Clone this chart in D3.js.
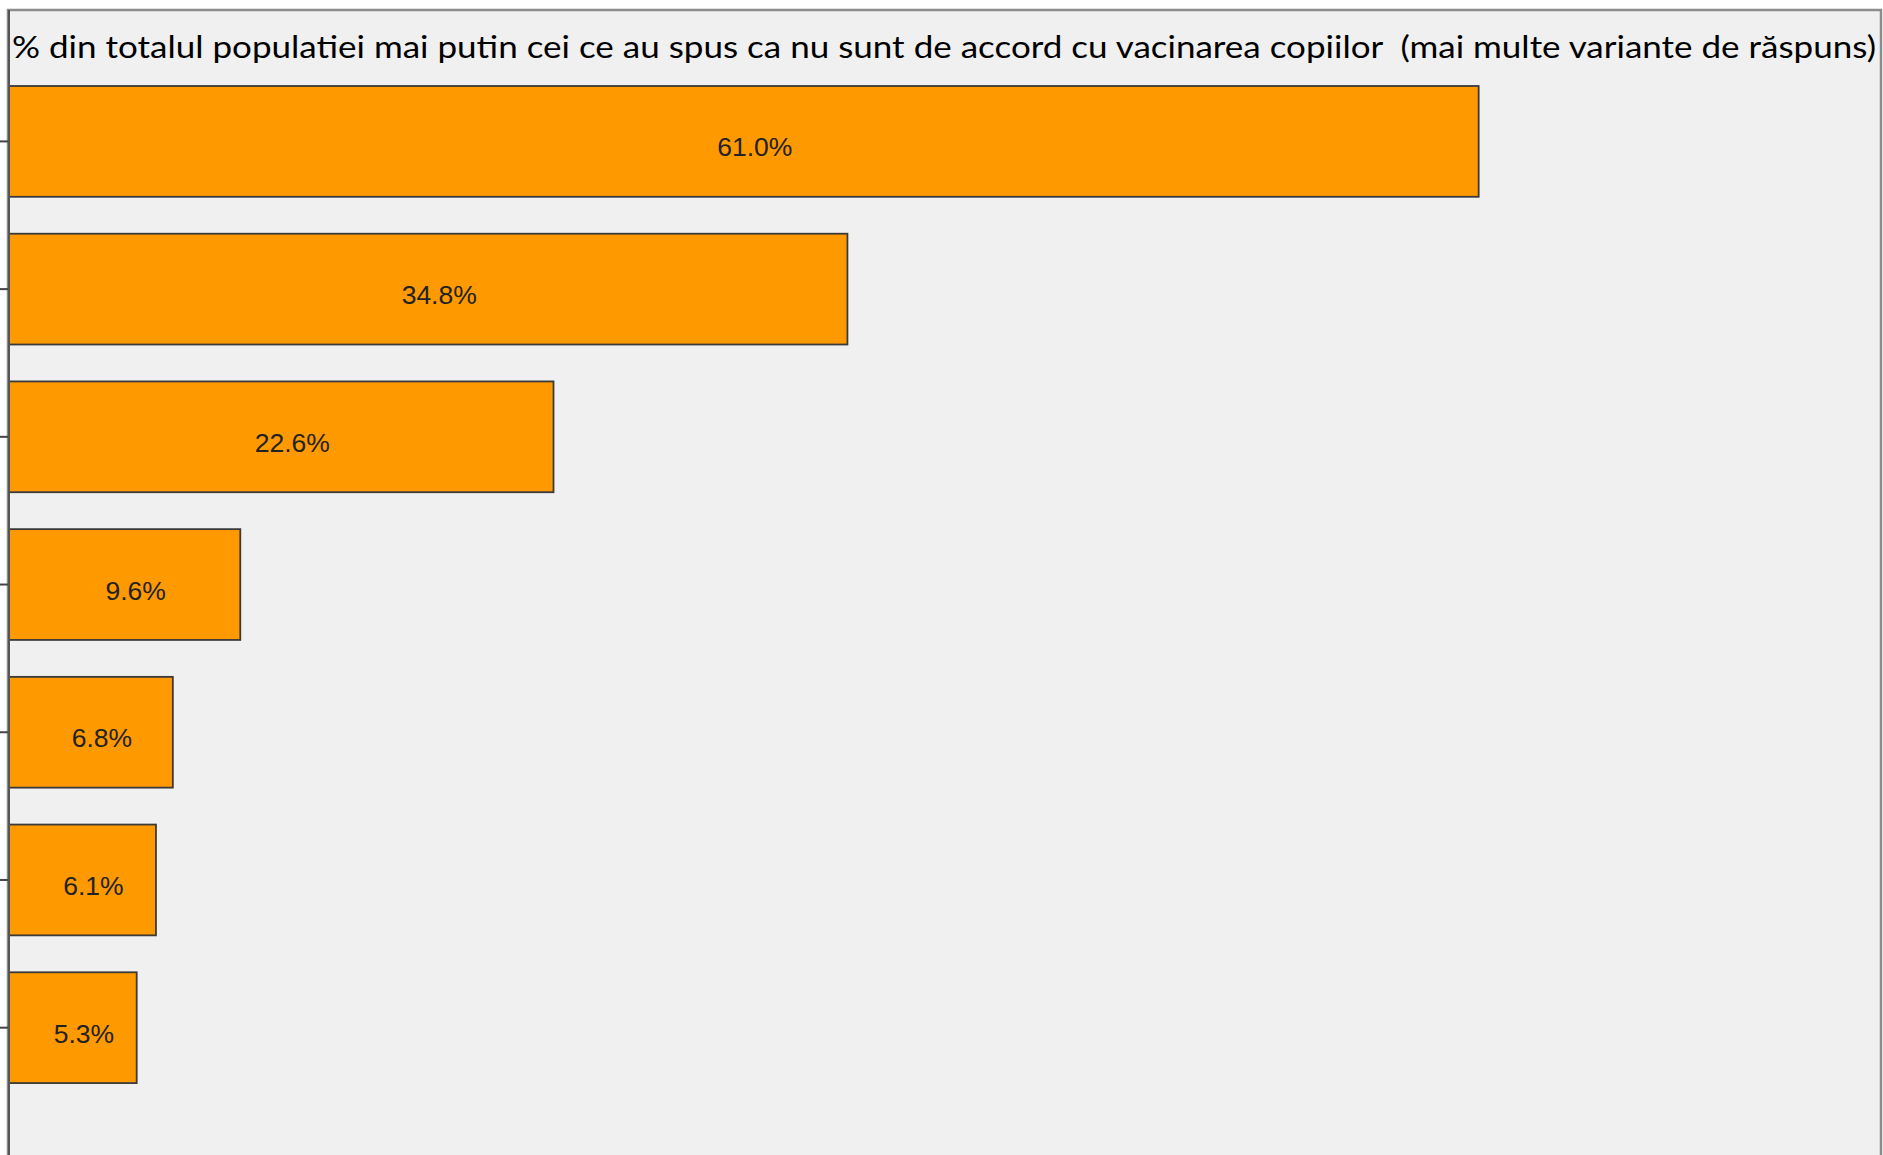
<!DOCTYPE html>
<html>
<head>
<meta charset="utf-8">
<script src="https://cdn.jsdelivr.net/npm/d3@7"></script>
<style>
  body { margin: 0; background: #fff; }
  svg { display: block; }
</style>
</head>
<body>
<svg id="chart" width="1883" height="1155"></svg>
<script>
const title = '% din totalul populatiei mai putin cei ce au spus ca nu sunt de accord cu vacinarea copiilor  (mai multe variante de răspuns)';
const categories = ['c1', 'c2', 'c3', 'c4', 'c5', 'c6', 'c7'];
const values = [61.0, 34.8, 22.6, 9.6, 6.8, 6.1, 5.3];
const labels = ['61.0%', '34.8%', '22.6%', '9.6%', '6.8%', '6.1%', '5.3%'];

const [W, H] = [1883, 1155];
const left = 8;

const svg = d3.select('#chart');

// panel
svg.append('rect')
    .attr('x', left)
    .attr('y', 10)
    .attr('width', W - left - 2)
    .attr('height', H)
    .attr('fill', '#f0f0f0')
    .attr('stroke', '#8c8c8c')
    .attr('stroke-width', 2.5);

svg.append('text')
    .attr('x', 12)
    .attr('y', 58)
    .attr('font-family', 'Lato, "Open Sans", sans-serif')
    .attr('font-size', 31.5)
    .attr('fill', '#000')
    .attr('textLength', 1864)
    .attr('lengthAdjust', 'spacingAndGlyphs')
    .style('white-space', 'pre')
    .text(title);

const x = d3.scaleLinear()
    .domain([0, 77.7])
    .range([left + 1, W - 2]);

const y = d3.scaleBand()
    .domain(categories)
    .range([86, 1120])
    .paddingInner(0.25)
    .paddingOuter(0.125)
    .align(0);

const rows = categories.map((c, i) => ({c, v: values[i], label: labels[i]}));

const bars = svg.append('g').attr('class', 'bars')
  .selectAll('g')
  .data(rows)
  .join('g');

bars.append('rect')
    .attr('x', x(0))
    .attr('y', d => y(d.c))
    .attr('width', d => x(d.v) - x(0))
    .attr('height', y.bandwidth())
    .attr('fill', '#ff9900')
    .attr('stroke', '#3a3a3a')
    .attr('stroke-width', 1.8);

bars.append('text')
    .attr('x', d => (x(0) + x(d.v)) / 2 + 11)
    .attr('y', d => y(d.c) + y.bandwidth() / 2 + 15)
    .attr('text-anchor', 'middle')
    .attr('font-family', '"Liberation Sans", Arial, sans-serif')
    .attr('font-size', 26.5)
    .attr('fill', '#222')
    .text(d => d.label);

// axis
const axis = svg.append('g')
    .attr('transform', `translate(${left + 1},0)`)
    .call(d3.axisLeft(y).tickSize(9).tickSizeOuter(0).tickFormat(''));
axis.select('.domain').remove();
axis.selectAll('.tick line')
    .attr('stroke', '#444')
    .attr('stroke-width', 2);

svg.append('line')
    .attr('x1', left + 1).attr('x2', left + 1)
    .attr('y1', 10).attr('y2', H)
    .attr('stroke', '#555')
    .attr('stroke-width', 2);
</script>
</body>
</html>
